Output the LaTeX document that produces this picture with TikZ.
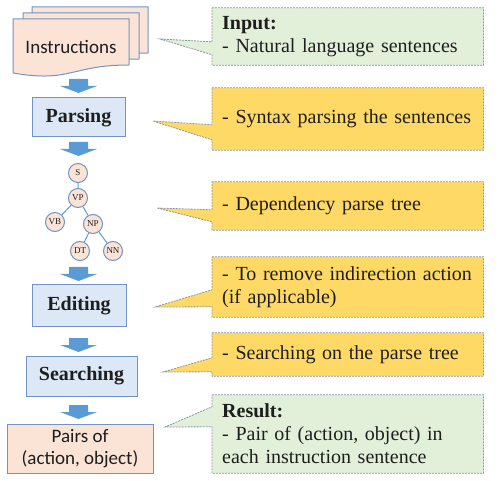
\documentclass[tikz,border=0pt]{standalone}
\usepackage{fontspec}
\setmainfont{Liberation Serif}
\newfontfamily\calfont{Carlito}
\usetikzlibrary{backgrounds,calc}
\definecolor{salmon}{HTML}{FBE3D6}
\definecolor{lblue}{HTML}{DCE8F6}
\definecolor{bord}{HTML}{7094C4}
\definecolor{arrowblue}{HTML}{5B9BD5}
\definecolor{cyellow}{HTML}{FFD966}
\definecolor{cgreen}{HTML}{E2EFD9}
\definecolor{dashc}{HTML}{8497B0}
\definecolor{txt}{HTML}{1E1E1E}
\tikzset{
  docpage/.pic={\path[fill=salmon,draw=bord,line width=1pt]
     (0,0) -- (116,0) -- (116,46) .. controls (58,46) and (58,64) .. (0,54) -- cycle;},
  blockarrow/.pic={\fill[arrowblue] (-9.5,0) -- (9.5,0) -- (9.5,7) -- (18.5,7) -- (0,14) -- (-18.5,7) -- (-9.5,7) -- cycle;},
  stepbox/.style={rectangle,draw=bord,line width=1pt,fill=lblue,text=txt,
     font=\fontsize{20}{23}\selectfont\bfseries},
  endbox/.style={rectangle,draw=bord,line width=1pt,fill=salmon,text=txt,align=center,
     font=\calfont\fontsize{19}{22}\selectfont},
  treenode/.style={circle,draw=bord,line width=1pt,fill=salmon,minimum size=19pt,inner sep=0pt,
     text=txt,font=\fontsize{9}{10}\selectfont},
  treeedge/.style={draw=arrowblue,line width=1pt},
  callbox/.style={rectangle,anchor=west,minimum width=271pt,text width=251pt,inner xsep=10pt,
     align=left,text=txt,font=\fontsize{20}{23}\selectfont},
  callshape/.style={draw=dashc,line width=0.8pt,dash pattern=on 2pt off 1pt},
}
\begin{document}
\begin{tikzpicture}[x=1pt,y=-1pt]
\useasboundingbox (0,0) rectangle (501,481);
% instruction document stack
\pic at (32,7) {docpage};
\pic at (23,13) {docpage};
\pic at (13,19) {docpage};
\node[text=txt,font=\calfont\fontsize{19}{22}\selectfont] (instr) at (71,47) {Instructions};

% block arrows
\pic at (78.5,79) {blockarrow};
\pic at (78.5,142) {blockarrow};
\pic at (78.5,267) {blockarrow};
\pic at (78.5,338) {blockarrow};
\pic at (78.5,405) {blockarrow};

% step boxes
\node[stepbox,minimum width=93pt,minimum height=39pt] (parsing) at (78.5,117.5) {Parsing};
\node[stepbox,minimum width=94pt,minimum height=41pt] (editing) at (79,305.5) {Editing};
\node[stepbox,minimum width=111pt,minimum height=40pt] (searching) at (81.5,376) {Searching};
\node[endbox,minimum width=146pt,minimum height=49pt] (pairs) at (80,448.5) {Pairs of\\(action, object)};

% parse tree
\node[treenode] (S) at (78,173) {S};
\node[treenode] (VP) at (78,198) {VP};
\node[treenode] (VB) at (55,222) {VB};
\node[treenode] (NP) at (93,224) {NP};
\node[treenode] (DT) at (80,251) {DT};
\node[treenode] (NN) at (113,251) {NN};
\path[treeedge] (S) -- (VP) (VP) -- (VB) (VP) -- (NP) (NP) -- (DT) (NP) -- (NN);

% callouts
\node[callbox,minimum height=57pt] (c1) at (212,36.5) {\textbf{Input:}\\- Natural language sentences};
\node[callbox,minimum height=62pt] (c2) at (212,119) {- Syntax parsing the sentences};
\node[callbox,minimum height=48pt] (c3) at (212,206) {- Dependency parse tree};
\node[callbox,minimum height=60pt] (c4) at (212,287) {- To remove indirection action\\(if applicable)};
\node[callbox,minimum height=43pt] (c5) at (212,354.5) {- Searching on the parse tree};
\node[callbox,minimum height=78pt] (c6) at (212,434) {\textbf{Result:}\\- Pair of (action, object) in\\each instruction sentence};

\coordinate (t1) at (160,39);
\coordinate (t2) at (153,121);
\coordinate (t3) at (157,208);
\coordinate (t4) at (155,307);
\coordinate (t5) at (163,372);
\coordinate (t6) at (165,427);

\begin{scope}[on background layer]
\path[callshape,fill=cgreen] (c1.north west) -- (c1.north east) -- (c1.south east) -- (c1.south west)
   -- ($(c1.north west)+(0,47)$) -- (t1) -- ($(c1.north west)+(0,34)$) -- cycle;
\path[callshape,fill=cyellow] (c2.north west) -- (c2.north east) -- (c2.south east) -- (c2.south west)
   -- ($(c2.north west)+(0,52)$) -- (t2) -- ($(c2.north west)+(0,37)$) -- cycle;
\path[callshape,fill=cyellow] (c3.north west) -- (c3.north east) -- (c3.south east) -- (c3.south west)
   -- ($(c3.north west)+(0,40)$) -- (t3) -- ($(c3.north west)+(0,28)$) -- cycle;
\path[callshape,fill=cyellow] (c4.north west) -- (c4.north east) -- (c4.south east) -- (c4.south west)
   -- ($(c4.north west)+(0,50)$) -- (t4) -- ($(c4.north west)+(0,33)$) -- cycle;
\path[callshape,fill=cyellow] (c5.north west) -- (c5.north east) -- (c5.south east) -- (c5.south west)
   -- ($(c5.north west)+(0,39)$) -- (t5) -- ($(c5.north west)+(0,25)$) -- cycle;
\path[callshape,fill=cgreen] (c6.north west) -- (c6.north east) -- (c6.south east) -- (c6.south west)
   -- ($(c6.north west)+(0,32)$) -- (t6) -- ($(c6.north west)+(0,12)$) -- cycle;
\end{scope}
\end{tikzpicture}
\end{document}
